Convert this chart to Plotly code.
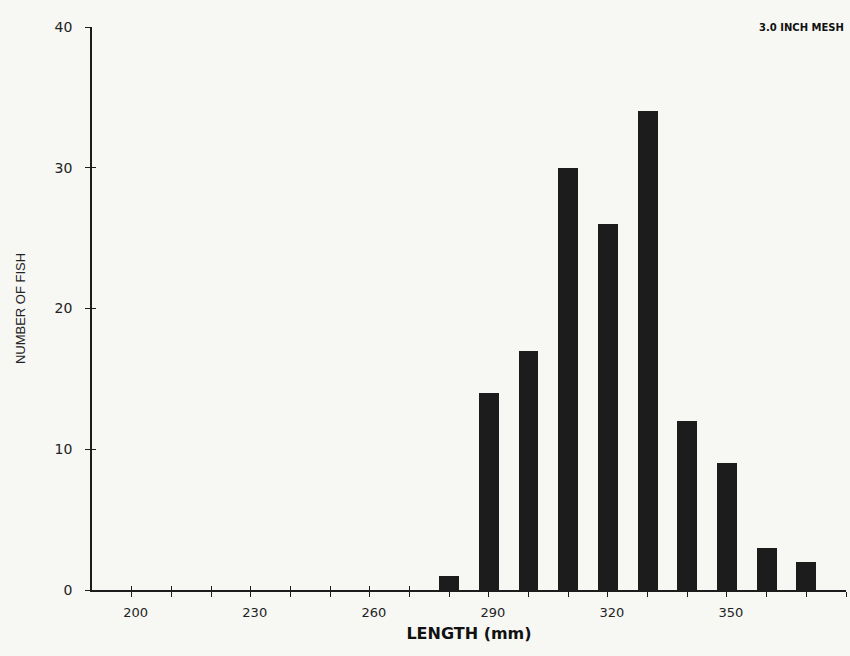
import plotly.graph_objects as go

lengths = [280, 290, 300, 310, 320, 330, 340, 350, 360, 370]
counts = [1, 14, 17, 30, 26, 34, 12, 9, 3, 2]

x_tick_vals = list(range(200, 390, 10))
x_tick_labels = ["200", "", "", "230", "", "", "260", "", "", "290", "", "", "320", "", "", "350", "", "", ""]
y_tick_vals = [0, 10, 20, 30, 40]

font_family = "DejaVu Sans"
ink = "#1c1c1c"

fig = go.Figure()
fig.add_trace(go.Bar(x=lengths, y=counts, width=5, marker=dict(color=ink, line=dict(width=0)),
                     showlegend=False))

common_x = dict(range=[190, 380], showgrid=False, zeroline=False)
common_y = dict(range=[0, 40], showgrid=False, zeroline=False)

fig.update_layout(
    width=850, height=656,
    margin=dict(l=92, r=4, t=27, b=66),
    paper_bgcolor="#f7f7f4", plot_bgcolor="#f7f7f4",
    font=dict(family=font_family, color="#222"),
    xaxis=dict(**common_x, showline=True, linecolor=ink, linewidth=1.5,
               tickmode="array", tickvals=x_tick_vals, ticktext=x_tick_labels,
               ticks="outside", ticklen=5, tickwidth=1.2, tickcolor=ink,
               tickfont=dict(size=13, family=font_family, color="#222"),
               ticklabelshift=4, ticklabelstandoff=5,
               title=dict(text="<b>LENGTH (mm)</b>", font=dict(size=16, family=font_family, color="#111"), standoff=8)),
    yaxis=dict(**common_y, showline=True, linecolor=ink, linewidth=1.5,
               tickmode="array", tickvals=y_tick_vals,
               ticks="outside", ticklen=5, tickwidth=1.2, tickcolor=ink,
               tickfont=dict(size=14, family=font_family, color="#222"),
               ticklabelstandoff=10,
               title=dict(text="NUMBER OF FISH", font=dict(size=13, family="Liberation Sans Narrow, Liberation Sans", color="#222"), standoff=26)),
    xaxis2=dict(**common_x, overlaying="x", showticklabels=False,
                tickmode="array", tickvals=x_tick_vals, ticks="inside", ticklen=4,
                tickwidth=1.2, tickcolor=ink, showline=False),
    yaxis2=dict(**common_y, overlaying="y", showticklabels=False,
                tickmode="array", tickvals=y_tick_vals, ticks="inside", ticklen=4,
                tickwidth=1.2, tickcolor=ink, showline=False),
    bargap=0,
)
fig.add_trace(go.Scatter(x=[190], y=[0], xaxis="x2", yaxis="y2", mode="markers",
                         marker=dict(opacity=0), showlegend=False, hoverinfo="skip"))

fig.add_annotation(text="<b>3.0 INCH MESH</b>", xref="paper", yref="paper", x=1.0, y=1.0,
                   xanchor="right", yanchor="middle", showarrow=False,
                   font=dict(size=10, family=font_family, color="#111"))

fig.write_html("out.html")
